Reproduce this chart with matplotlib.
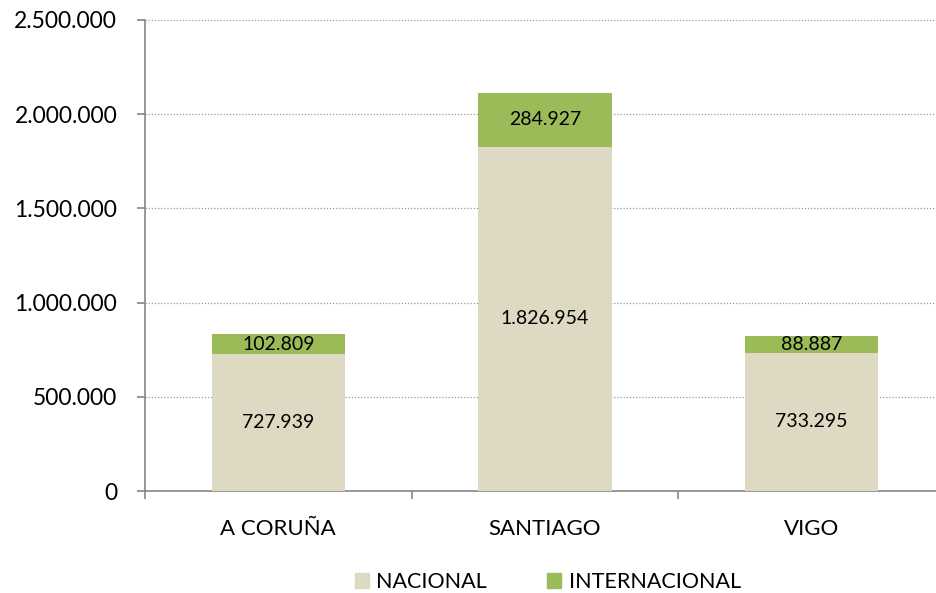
import matplotlib
matplotlib.use("Agg")
import matplotlib.pyplot as plt
from matplotlib.ticker import FuncFormatter, FixedLocator
from matplotlib.patches import Patch

categories = ["A CORUÑA", "SANTIAGO", "VIGO"]
nacional = [727939, 1826954, 733295]
internacional = [102809, 284927, 88887]
series_names = ["NACIONAL", "INTERNACIONAL"]
colors = ["#DDD9C3", "#9BBB59"]

plt.rcParams['font.family'] = ['Lato', 'DejaVu Sans']

def fmt(v):
    return f"{int(round(v)):,}".replace(",", ".")

fig = plt.figure(figsize=(9.36, 5.93), dpi=100)
ax = fig.add_axes([145/936, 1-491/593, 800/936, 471/593])

x = list(range(len(categories)))
b1 = ax.bar(x, nacional, width=0.5, color=colors[0], zorder=3)
b2 = ax.bar(x, internacional, width=0.5, bottom=nacional, color=colors[1], zorder=3)

for i in x:
    ax.text(i, nacional[i]/2, fmt(nacional[i]), ha='center', va='center', fontsize=14, zorder=4)
    ax.text(i, nacional[i] + internacional[i]/2, fmt(internacional[i]), ha='center', va='center', fontsize=14, zorder=4)

ax.set_xlim(-0.5, len(categories)-0.5)
ax.set_ylim(0, 2500000)
ax.set_yticks(range(0, 2500001, 500000))
ax.yaxis.set_major_formatter(FuncFormatter(lambda v, p: fmt(v)))
ax.yaxis.grid(True, linestyle=(0, (1, 1.5)), color='#9a9a9a', linewidth=0.9, zorder=0)

ax.xaxis.set_major_locator(FixedLocator([-0.5, 0.5, 1.5, 2.5]))
ax.xaxis.set_major_formatter(FuncFormatter(lambda v, p: ""))
ax.xaxis.set_minor_locator(FixedLocator(x))
ax.set_xticklabels(categories, minor=True)
ax.tick_params(axis='x', which='major', length=6, color='#868686', width=1.2)
ax.tick_params(axis='x', which='minor', length=0, labelsize=16, pad=20)
ax.tick_params(axis='y', length=6, color='#868686', width=1.2, labelsize=16.5, pad=14)

for s in ['top', 'right']:
    ax.spines[s].set_visible(False)
for s in ['left', 'bottom']:
    ax.spines[s].set_color('#868686')
    ax.spines[s].set_linewidth(1.2)

handles = [Patch(color=c, label=n) for c, n in zip(colors, series_names)]
fig.legend(handles=handles, loc='center', bbox_to_anchor=(548/936, 1-582/593), ncol=2,
           frameon=False, fontsize=15.5, handlelength=0.65, handleheight=0.65,
           handletextpad=0.35, columnspacing=2.8)

fig.savefig("out.png", dpi=100)
